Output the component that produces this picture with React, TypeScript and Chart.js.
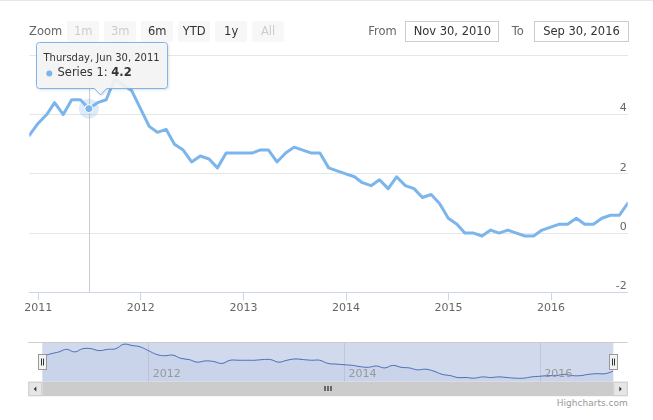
import React, { useEffect, useRef } from "react";
import { Chart, registerables } from "chart.js";

Chart.register(...registerables);

const FONT = '"DejaVu Sans", "Lucida Sans Unicode", Arial, sans-serif';

// ---------- data ----------
const FIRST_YEAR = 2010;
const FIRST_MONTH = 11; // November (1-based)
const values2010 = [3.3, 3.7];
const values2011 = [4.0, 4.4, 4.0, 4.5, 4.5, 4.2, 4.4, 4.5, 5.2, 5.0, 4.8, 4.2];
const values2012 = [3.6, 3.4, 3.5, 3.0, 2.8, 2.4, 2.6, 2.5, 2.2, 2.7, 2.7, 2.7];
const values2013 = [2.7, 2.8, 2.8, 2.4, 2.7, 2.9, 2.8, 2.7, 2.7, 2.2, 2.1, 2.0];
const values2014 = [1.9, 1.7, 1.6, 1.8, 1.5, 1.9, 1.6, 1.5, 1.2, 1.3, 1.0, 0.5];
const values2015 = [0.3, 0.0, 0.0, -0.1, 0.1, 0.0, 0.1, 0.0, -0.1, -0.1, 0.1, 0.2];
const values2016 = [0.3, 0.3, 0.5, 0.3, 0.3, 0.5, 0.6, 0.6, 1.0];
const seriesValues = [
  ...values2010,
  ...values2011,
  ...values2012,
  ...values2013,
  ...values2014,
  ...values2015,
  ...values2016,
];
// month-end dates, one per value
const monthEnds = seriesValues.map((_, i) => Date.UTC(FIRST_YEAR, FIRST_MONTH + i, 0));

const seriesName = "Series 1";
const hoverIndex = 7; // Jun 30, 2011
const yearTicks = [2011, 2012, 2013, 2014, 2015, 2016];
const navYearTicks = [2012, 2014, 2016];
const yTicks = [-2, 0, 2, 4, 6];
const rangeButtons = ["1m", "3m", "6m", "YTD", "1y", "All"];
const disabledButtons = ["1m", "3m", "All"];
const MONTHS = ["Jan", "Feb", "Mar", "Apr", "May", "Jun", "Jul", "Aug", "Sep", "Oct", "Nov", "Dec"];
const DAYS = ["Sunday", "Monday", "Tuesday", "Wednesday", "Thursday", "Friday", "Saturday"];

const fmtDate = (t: number) => {
  const d = new Date(t);
  return `${MONTHS[d.getUTCMonth()]} ${d.getUTCDate()}, ${d.getUTCFullYear()}`;
};

const minX = monthEnds[0];
const maxX = monthEnds[monthEnds.length - 1];
const points = monthEnds.map((t, i) => ({ x: t, y: seriesValues[i] }));

const mainPlugin = {
  id: "hcMain",
  beforeDatasetsDraw(chart: any) {
    const ctx = chart.ctx as CanvasRenderingContext2D;
    const pt = chart.getDatasetMeta(0).data[hoverIndex];
    const { top, bottom } = chart.chartArea;
    const x = Math.round(pt.x) + 0.5;
    ctx.save();
    ctx.strokeStyle = "#cccccc";
    ctx.lineWidth = 1;
    ctx.beginPath();
    ctx.moveTo(x, top);
    ctx.lineTo(x, bottom);
    ctx.stroke();
    ctx.restore();
  },
  afterDatasetsDraw(chart: any) {
    const ctx = chart.ctx as CanvasRenderingContext2D;
    const pt = chart.getDatasetMeta(0).data[hoverIndex];
    ctx.save();
    ctx.fillStyle = "rgba(124,181,236,0.25)";
    ctx.beginPath();
    ctx.arc(pt.x, pt.y, 10, 0, Math.PI * 2);
    ctx.fill();
    ctx.fillStyle = "#7cb5ec";
    ctx.strokeStyle = "#ffffff";
    ctx.lineWidth = 1;
    ctx.beginPath();
    ctx.arc(pt.x, pt.y, 4, 0, Math.PI * 2);
    ctx.fill();
    ctx.stroke();
    ctx.restore();
  },
  afterDraw(chart: any) {
    const ctx = chart.ctx as CanvasRenderingContext2D;
    const pt = chart.getDatasetMeta(0).data[hoverIndex];
    const bx = Math.round(pt.x - 52.5) + 0.5;
    const by = 42.5;
    const bw = 131;
    const bh = 46;
    const r = 3;
    const ax = Math.round(pt.x + 11) + 0.5;
    ctx.save();
    // callout
    ctx.beginPath();
    ctx.moveTo(bx + r, by);
    ctx.lineTo(bx + bw - r, by);
    ctx.arcTo(bx + bw, by, bx + bw, by + r, r);
    ctx.lineTo(bx + bw, by + bh - r);
    ctx.arcTo(bx + bw, by + bh, bx + bw - r, by + bh, r);
    ctx.lineTo(ax + 6, by + bh);
    ctx.lineTo(ax, by + bh + 6.5);
    ctx.lineTo(ax - 6, by + bh);
    ctx.lineTo(bx + r, by + bh);
    ctx.arcTo(bx, by + bh, bx, by + bh - r, r);
    ctx.lineTo(bx, by + r);
    ctx.arcTo(bx, by, bx + r, by, r);
    ctx.closePath();
    ctx.shadowColor = "rgba(0,0,0,0.18)";
    ctx.shadowOffsetX = 1;
    ctx.shadowOffsetY = 1;
    ctx.shadowBlur = 3;
    ctx.fillStyle = "rgba(247,247,247,0.9)";
    ctx.fill();
    ctx.shadowColor = "transparent";
    ctx.strokeStyle = "#7cb5ec";
    ctx.lineWidth = 1;
    ctx.stroke();
    // texts
    const t = monthEnds[hoverIndex];
    const title = `${DAYS[new Date(t).getUTCDay()]}, ${fmtDate(t)}`;
    ctx.fillStyle = "#333333";
    ctx.textBaseline = "middle";
    ctx.textAlign = "left";
    ctx.font = `10px ${FONT}`;
    ctx.fillText(title, bx + 7, by + 16);
    ctx.fillStyle = "#7cb5ec";
    ctx.beginPath();
    ctx.arc(bx + 12.8, by + 31, 3, 0, Math.PI * 2);
    ctx.fill();
    ctx.fillStyle = "#333333";
    ctx.font = `11.5px ${FONT}`;
    const label = `${seriesName}: `;
    ctx.fillText(label, bx + 21, by + 31);
    const w = ctx.measureText(label).width;
    ctx.font = `bold 11.5px ${FONT}`;
    ctx.fillText(seriesValues[hoverIndex].toFixed(1), bx + 21 + w, by + 31);
    ctx.restore();
  },
};

const navPlugin = {
  id: "hcNav",
  beforeDatasetsDraw(chart: any) {
    const ctx = chart.ctx as CanvasRenderingContext2D;
    const { left, right, top, bottom } = chart.chartArea;
    ctx.save();
    ctx.fillStyle = "rgba(102,133,194,0.3)";
    ctx.fillRect(left, top, right - left, bottom - top);
    ctx.restore();
  },
  afterDraw(chart: any) {
    const ctx = chart.ctx as CanvasRenderingContext2D;
    const { left, right, top, bottom } = chart.chartArea;
    const xs = chart.scales.x;
    ctx.save();
    // axis labels inside navigator
    ctx.font = `11px ${FONT}`;
    ctx.fillStyle = "#999999";
    ctx.textBaseline = "middle";
    ctx.textAlign = "left";
    navYearTicks.forEach((y) => {
      const px = xs.getPixelForValue(Date.UTC(y, 0, 1));
      ctx.fillText(String(y), px + 4, bottom - 7.5);
    });
    // outline top
    ctx.strokeStyle = "#cccccc";
    ctx.lineWidth = 1;
    ctx.beginPath();
    ctx.moveTo(left - 14, Math.round(top) + 0.5);
    ctx.lineTo(right + 14, Math.round(top) + 0.5);
    ctx.stroke();
    // scrollbar
    const sy = bottom;
    const sh = 14.5;
    ctx.fillStyle = "#cccccc";
    ctx.fillRect(left, sy, right - left, sh);
    ctx.fillStyle = "#e6e6e6";
    ctx.fillRect(left - 14, sy, 14, sh);
    ctx.fillRect(right, sy, 14.5, sh);
    ctx.strokeStyle = "#cccccc";
    ctx.strokeRect(left - 13.5, sy + 0.5, 13, sh - 1);
    ctx.strokeRect(right + 0.5, sy + 0.5, 13.5, sh - 1);
    const cy = sy + sh / 2;
    ctx.fillStyle = "#333333";
    ctx.beginPath();
    ctx.moveTo(left - 8.5, cy);
    ctx.lineTo(left - 6, cy - 2.5);
    ctx.lineTo(left - 6, cy + 2.5);
    ctx.closePath();
    ctx.fill();
    ctx.beginPath();
    ctx.moveTo(right + 8.5, cy);
    ctx.lineTo(right + 6, cy - 2.5);
    ctx.lineTo(right + 6, cy + 2.5);
    ctx.closePath();
    ctx.fill();
    // grip
    const gx = Math.round((left + right) / 2);
    ctx.strokeStyle = "#333333";
    ctx.lineWidth = 1.3;
    [-3, 0, 3].forEach((o) => {
      ctx.beginPath();
      ctx.moveTo(gx + o, cy - 3);
      ctx.lineTo(gx + o, cy + 2);
      ctx.stroke();
    });
    // handles
    const hy = Math.round(top + 12) + 0.5;
    [left, right].forEach((hx) => {
      const x0 = Math.round(hx - 4) + 0.5;
      ctx.fillStyle = "#f2f2f2";
      ctx.fillRect(x0, hy, 8, 15);
      ctx.strokeStyle = "#999999";
      ctx.lineWidth = 1;
      ctx.strokeRect(x0, hy, 8, 15);
      ctx.strokeStyle = "#333333";
      ctx.beginPath();
      ctx.moveTo(x0 + 3, hy + 4);
      ctx.lineTo(x0 + 3, hy + 11);
      ctx.moveTo(x0 + 5, hy + 4);
      ctx.lineTo(x0 + 5, hy + 11);
      ctx.stroke();
    });
    ctx.restore();
  },
};

export default function App() {
  const mainRef = useRef<HTMLCanvasElement>(null);
  const navRef = useRef<HTMLCanvasElement>(null);

  useEffect(() => {
    const main = new Chart(mainRef.current as HTMLCanvasElement, {
      type: "line",
      data: {
        datasets: [
          {
            data: points,
            borderColor: "#7cb5ec",
            borderWidth: 3,
            pointRadius: 0,
            tension: 0,
            fill: false,
            borderJoinStyle: "round",
            borderCapStyle: "round",
          },
        ],
      },
      options: {
        responsive: false,
        animation: false,
        events: [],
        layout: { padding: { left: 29.3, right: 25.3, top: 55.3, bottom: 0 } },
        plugins: { legend: { display: false }, tooltip: { enabled: false } },
        scales: {
          x: {
            type: "linear",
            min: minX,
            max: maxX,
            afterBuildTicks: (s: any) => {
              s.ticks = yearTicks.map((y) => ({ value: Date.UTC(y, 0, 1) }));
            },
            afterFit: (s: any) => {
              s.height = 37.7;
            },
            ticks: {
              callback: (v: any) => String(new Date(Number(v)).getUTCFullYear()),
              autoSkip: false,
              maxRotation: 0,
              color: "#666666",
              font: { family: FONT, size: 11 },
              padding: 1,
            },
            grid: { drawOnChartArea: false, drawTicks: true, tickLength: 8, color: "#ccd6eb" },
            border: { color: "#ccd6eb", width: 1 },
          },
          y: {
            position: "right",
            min: -2,
            max: 6,
            afterBuildTicks: (s: any) => {
              s.ticks = yTicks.map((v) => ({ value: v }));
            },
            afterFit: (s: any) => {
              s.width = 0;
            },
            ticks: {
              mirror: true,
              padding: -1,
              labelOffset: -6,
              color: "#666666",
              font: { family: FONT, size: 11 },
              callback: (v: any) => (v === 6 ? "" : String(v)),
            },
            grid: { color: "#e6e6e6", drawTicks: false },
            border: { display: false },
          },
        },
      },
      plugins: [mainPlugin],
    } as any);

    const nav = new Chart(navRef.current as HTMLCanvasElement, {
      type: "line",
      data: {
        datasets: [
          {
            data: points,
            borderColor: "#4a6db3",
            borderWidth: 1,
            pointRadius: 0,
            tension: 0.4,
            fill: "start",
            backgroundColor: "rgba(51,92,173,0.05)",
          },
        ],
      },
      options: {
        responsive: false,
        animation: false,
        events: [],
        layout: { padding: { left: 42.3, right: 39.7, top: 7.3, bottom: 15.3 } },
        plugins: { legend: { display: false }, tooltip: { enabled: false } },
        scales: {
          x: {
            type: "linear",
            min: minX,
            max: maxX,
            afterBuildTicks: (s: any) => {
              s.ticks = navYearTicks.map((y) => ({ value: Date.UTC(y, 0, 1) }));
            },
            afterFit: (s: any) => {
              s.height = 0;
            },
            ticks: { display: false },
            grid: { color: "#e6e6e6", drawTicks: false },
            border: { display: false },
          },
          y: { display: false, min: -0.65, max: 5.5 },
        },
      },
      plugins: [navPlugin],
    } as any);

    return () => {
      main.destroy();
      nav.destroy();
    };
  }, []);

  const textStyle: React.CSSProperties = {
    position: "absolute",
    fontFamily: FONT,
    fontSize: "11.5px",
    lineHeight: "21px",
    whiteSpace: "nowrap",
  };

  return (
    <div
      style={{
        position: "fixed",
        left: 0,
        top: 0,
        width: 653,
        height: 420,
        background: "#ffffff",
        overflow: "hidden",
        fontFamily: FONT,
      }}
    >
      <div style={{ position: "absolute", left: 0, top: 0, width: 653, height: 1, background: "#e6e6e6" }} />
      <canvas ref={mainRef} width={653} height={330} style={{ position: "absolute", left: 0, top: 0 }} />
      <canvas ref={navRef} width={653} height={62} style={{ position: "absolute", left: 0, top: 335 }} />

      <span style={{ ...textStyle, left: 29, top: 21, color: "#666666" }}>Zoom</span>
      {rangeButtons.map((b, i) => (
        <div
          key={b}
          style={{
            ...textStyle,
            left: 67.3 + i * 37,
            top: 21,
            width: 31.7,
            height: 21.3,
            lineHeight: "21.3px",
            background: "#f7f7f7",
            borderRadius: 2,
            textAlign: "center",
            color: disabledButtons.includes(b) ? "#cccccc" : "#333333",
          }}
        >
          {b}
        </div>
      ))}

      <span style={{ ...textStyle, left: 368.3, top: 21, color: "#666666" }}>From</span>
      <div
        style={{
          ...textStyle,
          left: 405.3,
          top: 21,
          width: 92,
          height: 19.3,
          lineHeight: "19.3px",
          border: "1px solid #cccccc",
          textAlign: "center",
          color: "#333333",
        }}
      >
        {fmtDate(minX)}
      </div>
      <span style={{ ...textStyle, left: 511.7, top: 21, color: "#666666" }}>To</span>
      <div
        style={{
          ...textStyle,
          left: 534.3,
          top: 21,
          width: 92.4,
          height: 19.3,
          lineHeight: "19.3px",
          border: "1px solid #cccccc",
          textAlign: "center",
          color: "#333333",
        }}
      >
        {fmtDate(maxX)}
      </div>

      <span
        style={{
          position: "absolute",
          right: 653 - 627.7,
          top: 397,
          fontFamily: FONT,
          fontSize: "9px",
          lineHeight: "13px",
          color: "#999999",
        }}
      >
        Highcharts.com
      </span>
    </div>
  );
}
